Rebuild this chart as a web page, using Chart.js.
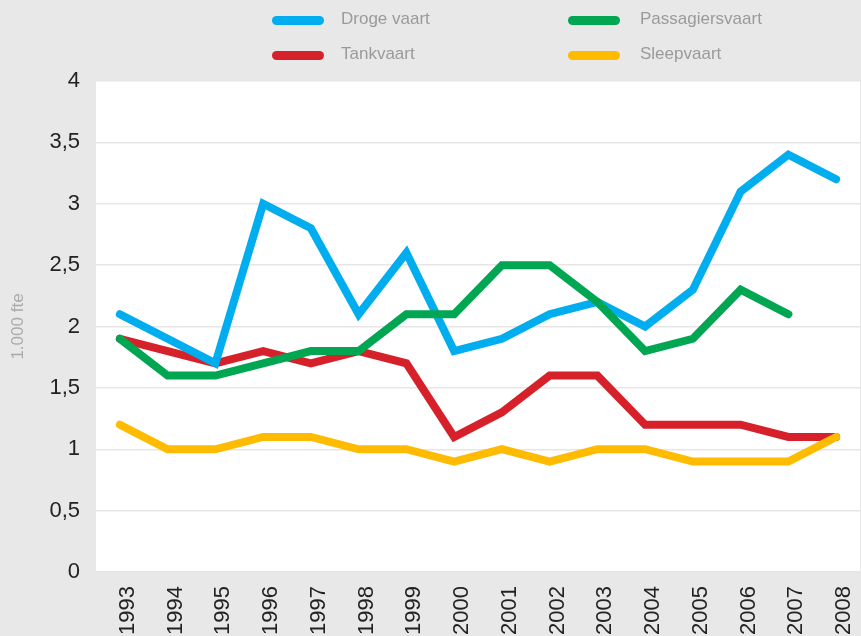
<!DOCTYPE html>
<html>
<head>
<meta charset="utf-8">
<script src="https://cdn.jsdelivr.net/npm/chart.js@4/dist/chart.umd.min.js"></script>
<style>
  html, body { margin: 0; padding: 0; background: #e8e8e8; overflow: hidden; }
  #wrap { position: relative; width: 861px; height: 636px; }
  #legend { position: absolute; left: 0; top: 0; width: 861px; height: 75px; font-family: "Liberation Sans", Arial, sans-serif; }
  .swatch { position: absolute; width: 52px; height: 9px; border-radius: 4.5px; }
  .label { position: absolute; font-size: 17px; line-height: 20px; color: #9a9a9a; }
</style>
</head>
<body>
<div id="wrap">
  <canvas id="chart" width="861" height="636"></canvas>
  <div id="legend"></div>
</div>
<script>
// years on the x axis
const years = ['1993', '1994', '1995', '1996', '1997', '1998', '1999', '2000',
  '2001', '2002', '2003', '2004', '2005', '2006', '2007', '2008'];

// values in 1.000 fte
const drogeVaart = [2.1, 1.9, 1.7, 3.0, 2.8, 2.1, 2.6, 1.8, 1.9, 2.1, 2.2, 2.0, 2.3, 3.1, 3.4, 3.2];
const tankVaart = [1.9, 1.8, 1.7, 1.8, 1.7, 1.8, 1.7, 1.1, 1.3, 1.6, 1.6, 1.2, 1.2, 1.2, 1.1, 1.1];
const passagiersVaart = [1.9, 1.6, 1.6, 1.7, 1.8, 1.8, 2.1, 2.1, 2.5, 2.5, 2.2, 1.8, 1.9, 2.3, 2.1, null];
const sleepVaart = [1.2, 1.0, 1.0, 1.1, 1.1, 1.0, 1.0, 0.9, 1.0, 0.9, 1.0, 1.0, 0.9, 0.9, 0.9, 1.1];

const seriesNames = ['Droge vaart', 'Passagiersvaart', 'Tankvaart', 'Sleepvaart'];
const seriesData = [drogeVaart, passagiersVaart, tankVaart, sleepVaart];
const seriesColors = ['#00aeef', '#00a651', '#d7212a', '#ffbb00'];
const drawOrder = [2, 1, 3, 0]; // lower = drawn on top

// html legend, two columns
const legendPos = [
  { sx: 272, tx: 341, y: 20 },  // Droge vaart
  { sx: 568, tx: 640, y: 20 },  // Passagiersvaart
  { sx: 272, tx: 341, y: 55 },  // Tankvaart
  { sx: 568, tx: 640, y: 55 },  // Sleepvaart
];
const legend = document.getElementById('legend');
seriesNames.forEach((name, i) => {
  const p = legendPos[i];
  const sw = document.createElement('div');
  sw.className = 'swatch';
  sw.style.left = p.sx + 'px';
  sw.style.top = (p.y - 4.5) + 'px';
  sw.style.background = seriesColors[i];
  legend.appendChild(sw);
  const lb = document.createElement('div');
  lb.className = 'label';
  lb.style.left = p.tx + 'px';
  lb.style.top = (p.y - 11) + 'px';
  lb.textContent = name;
  legend.appendChild(lb);
});

// white plot area
const plotBackground = {
  id: 'plotBackground',
  beforeDraw(chart) {
    const { ctx, chartArea } = chart;
    ctx.save();
    ctx.fillStyle = '#ffffff';
    ctx.fillRect(chartArea.left, chartArea.top, chartArea.right - chartArea.left, chartArea.bottom - chartArea.top);
    ctx.restore();
  }
};

const tickFont = { family: '"Liberation Sans", Arial, sans-serif', size: 22 };

new Chart(document.getElementById('chart'), {
  type: 'line',
  data: {
    labels: years,
    datasets: seriesNames.map((name, i) => ({
      label: name,
      data: seriesData[i],
      borderColor: seriesColors[i],
      backgroundColor: seriesColors[i],
      borderWidth: 8,
      borderCapStyle: 'round',
      borderJoinStyle: 'miter',
      pointRadius: 0,
      tension: 0,
      order: drawOrder[i],
    })),
  },
  options: {
    responsive: false,
    animation: false,
    layout: { padding: { top: 81, right: 1, left: 0, bottom: 0 } },
    plugins: {
      legend: { display: false },
      tooltip: { enabled: false },
    },
    scales: {
      x: {
        offset: true,
        grid: { display: false, drawTicks: false },
        border: { display: false },
        ticks: {
          color: '#222',
          font: tickFont,
          minRotation: 90,
          maxRotation: 90,
          padding: 14,
          labelOffset: 8,
          autoSkip: false,
        },
        afterFit(scale) {
          scale.height = 64;
          scale.paddingLeft = 0;
          scale.paddingRight = 0;
        },
      },
      y: {
        min: 0,
        max: 4,
        grid: { color: '#e6e6e6', lineWidth: 1.5, drawTicks: false },
        border: { display: false },
        ticks: {
          stepSize: 0.5,
          color: '#222',
          font: tickFont,
          padding: 16,
          callback: (v) => String(v).replace('.', ','),
        },
        title: {
          display: true,
          text: '1.000 fte',
          color: '#aaaaaa',
          font: { family: '"Liberation Sans", Arial, sans-serif', size: 17 },
          padding: { top: 8, bottom: 0 },
        },
        afterFit(scale) {
          scale.width = 96;
          scale.paddingTop = 0;
          scale.paddingBottom = 0;
        },
      },
    },
  },
  plugins: [plotBackground],
});
</script>
</body>
</html>
